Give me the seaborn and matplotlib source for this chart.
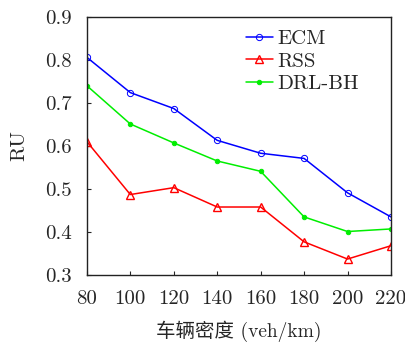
import matplotlib
matplotlib.use("Agg")
import matplotlib.pyplot as plt
import seaborn as sns
import pandas as pd

density = [80, 100, 120, 140, 160, 180, 200, 220]
ecm = [0.806, 0.724, 0.687, 0.613, 0.583, 0.571, 0.491, 0.435]
rss = [0.610, 0.487, 0.503, 0.458, 0.458, 0.377, 0.337, 0.368]
drl_bh = [0.740, 0.651, 0.607, 0.565, 0.541, 0.435, 0.401, 0.407]
series_names = ["ECM", "RSS", "DRL-BH"]
x_ticks = [80, 100, 120, 140, 160, 180, 200, 220]
y_ticks = [0.3, 0.4, 0.5, 0.6, 0.7, 0.8, 0.9]

sns.set_style("ticks")
plt.rcParams["font.family"] = ["cmr10", "Noto Sans CJK SC"]
plt.rcParams["axes.formatter.use_mathtext"] = True
plt.rcParams["mathtext.fontset"] = "cm"

df = pd.DataFrame({
    "density": density * 3,
    "RU": ecm + rss + drl_bh,
    "method": [series_names[0]] * 8 + [series_names[1]] * 8 + [series_names[2]] * 8,
})

fig = plt.figure(figsize=(4.06, 3.45), dpi=100)
ax = fig.add_axes([0.214, 0.203, 0.749, 0.748])

styles = {
    "ECM": dict(color="#0000ff", marker="o", mfc="none", ms=4.5, mew=0.7),
    "RSS": dict(color="#ff0000", marker="^", mfc="none", ms=5.5, mew=1.0),
    "DRL-BH": dict(color="#00ee00", marker="o", mfc="#00ee00", ms=3.2, mew=0.7),
}
for name in series_names:
    sub = df[df["method"] == name]
    st = styles[name]
    sns.lineplot(data=sub, x="density", y="RU", ax=ax, color=st["color"],
                 marker=st["marker"], markersize=st["ms"], markerfacecolor=st["mfc"],
                 markeredgecolor=st["color"], markeredgewidth=st["mew"],
                 linewidth=1.1, label=name)

ax.set_xlim(80, 220)
ax.set_ylim(0.3, 0.9)
ax.set_xticks(x_ticks)
ax.set_yticks(y_ticks)
ax.set_xticklabels([str(v) for v in x_ticks])
ax.set_yticklabels([f"{v:.1f}" for v in y_ticks])
ax.tick_params(direction="in", length=3, width=0.8, labelsize=15, pad=11,
               top=False, right=False)
for s in ax.spines.values():
    s.set_color("#222222")
    s.set_linewidth(1.0)

ax.set_xlabel("车辆密度 (veh/km)", fontsize=14, labelpad=9)
ax.set_ylabel("RU", fontsize=15, labelpad=12)

leg = ax.legend(loc="upper left", frameon=False, fontsize=15, handlelength=1.3,
                handletextpad=0.2, labelspacing=0.2, borderaxespad=0.0,
                borderpad=0.0, bbox_to_anchor=(0.523, 0.952))

fig.savefig("out.png", dpi=100)
